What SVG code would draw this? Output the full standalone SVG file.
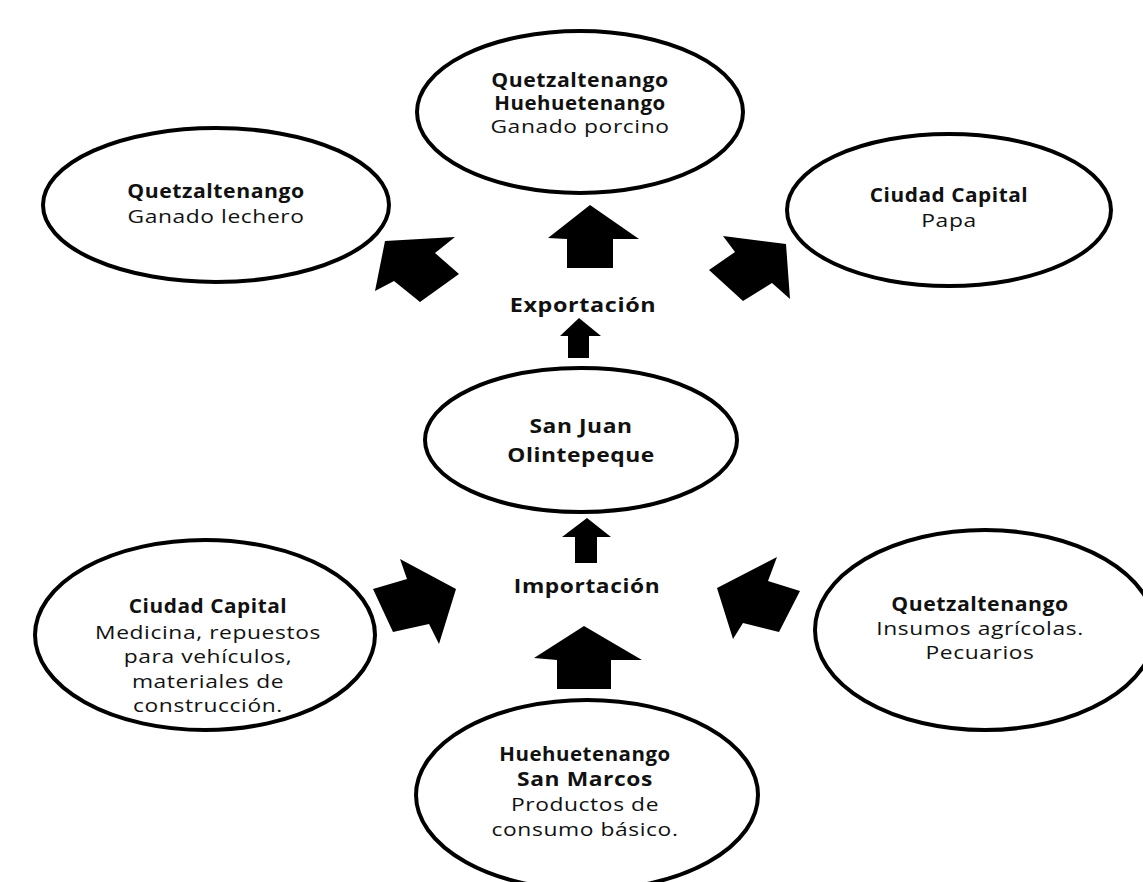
<svg xmlns="http://www.w3.org/2000/svg" width="1143" height="882" viewBox="0 0 1143 882">
<style>
.e{fill:#fff;stroke:#000;stroke-width:4}
.a{fill:#000}
text{font-family:"Open Sans","Liberation Sans",sans-serif;font-size:19px;fill:#111;text-anchor:middle;letter-spacing:0.5px}
.b{font-weight:700}
</style>
<rect width="1143" height="882" fill="#fff"/>
<g id="connectors">
<polygon class="a" points="385,241 455,237 435,253 459,274 420,302 394,281 375,291"/>
<polygon class="a" points="590,205 639,239 613,239 613,268 567,268 567,239 548,238"/>
<polygon class="a" points="723,236 786,244 790,299 772,283 743,301 709,270 735,252"/>
<polygon class="a" points="400,559 456,589 439,644 429,624 393,632 373,589 407,579"/>
<polygon class="a" points="584,626 642,660 611,660 611,689 557,689 557,660 534,658"/>
<polygon class="a" points="717,588 777,557 768,581 800,591 779,632 743,623 733,639"/>
<polygon class="a" points="579,318 601,336 589,336 589,358 568,358 568,336 560,336"/>
<polygon class="a" points="587,518 611,537 597,537 597,563 575,563 575,537 562,537"/>
</g>
<g id="n-lechero">
<ellipse class="e" cx="216" cy="205" rx="173" ry="77"/>
<g transform="translate(216 0) scale(1.2 1)"><text class="b" x="0" y="198" textLength="148" lengthAdjust="spacingAndGlyphs">Quetzaltenango</text><text x="0" y="223">Ganado lechero</text></g>
</g>
<g id="n-porcino">
<ellipse class="e" cx="580" cy="112" rx="163" ry="81"/>
<g transform="translate(580 0) scale(1.2 1)"><text class="b" x="0" y="87" textLength="148" lengthAdjust="spacingAndGlyphs">Quetzaltenango</text><text class="b" x="0" y="110" textLength="143" lengthAdjust="spacingAndGlyphs">Huehuetenango</text><text x="0" y="133">Ganado porcino</text></g>
</g>
<g id="n-papa">
<ellipse class="e" cx="949" cy="210" rx="162" ry="76"/>
<g transform="translate(949 0) scale(1.2 1)"><text class="b" x="0" y="202" textLength="132" lengthAdjust="spacingAndGlyphs">Ciudad Capital</text><text x="0" y="227">Papa</text></g>
</g>
<g id="l-export">
<g transform="translate(583 0) scale(1.2 1)"><text class="b" x="0" y="312" textLength="122" lengthAdjust="spacingAndGlyphs">Exportación</text></g>
</g>
<g id="n-sanjuan">
<ellipse class="e" cx="581" cy="440" rx="156" ry="72"/>
<g transform="translate(581 0) scale(1.2 1)"><text class="b" x="0" y="433">San Juan</text><text class="b" x="0" y="462">Olintepeque</text></g>
</g>
<g id="l-import">
<g transform="translate(587 0) scale(1.2 1)"><text class="b" x="0" y="593" textLength="122" lengthAdjust="spacingAndGlyphs">Importación</text></g>
</g>
<g id="n-capital">
<ellipse class="e" cx="205" cy="635" rx="170" ry="95"/>
<g transform="translate(208 0) scale(1.2 1)"><text class="b" x="0" y="613" textLength="132" lengthAdjust="spacingAndGlyphs">Ciudad Capital</text><text x="0" y="639">Medicina, repuestos</text><text x="0" y="663">para vehículos,</text><text x="0" y="688">materiales de</text><text x="0" y="712">construcción.</text></g>
</g>
<g id="n-insumos">
<ellipse class="e" cx="985" cy="630" rx="170" ry="100"/>
<g transform="translate(980 0) scale(1.2 1)"><text class="b" x="0" y="611" textLength="148" lengthAdjust="spacingAndGlyphs">Quetzaltenango</text><text x="0" y="635">Insumos agrícolas.</text><text x="0" y="659">Pecuarios</text></g>
</g>
<g id="n-basico">
<ellipse class="e" cx="587" cy="795" rx="171" ry="95"/>
<g transform="translate(585 0) scale(1.2 1)"><text class="b" x="0" y="761" textLength="143" lengthAdjust="spacingAndGlyphs">Huehuetenango</text><text class="b" x="0" y="786">San Marcos</text><text x="0" y="811">Productos de</text><text x="0" y="836">consumo básico.</text></g>
</g>
</svg>
